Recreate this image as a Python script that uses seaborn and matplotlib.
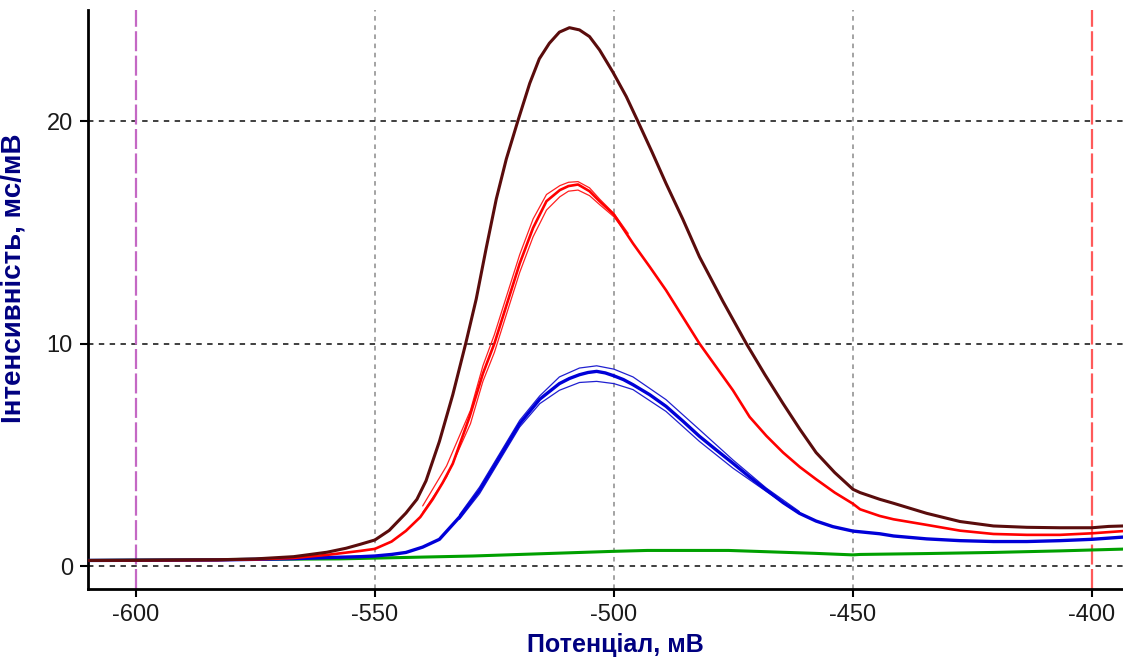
import matplotlib
matplotlib.use("Agg")
import matplotlib.pyplot as plt
import seaborn as sns
import pandas as pd

# ---------------- data ----------------
maroon_x = [-610, -583, -575, -567, -560, -556, -553, -550, -547, -543.5, -541.2, -539.3, -536.5,
            -533.7, -531, -528.8, -526.7, -524.6, -522.5, -520.1, -517.6, -515.6, -513.5, -511.4,
            -509.3, -507.2, -505.1, -503.0, -500.2, -497.4, -495.0, -492, -489.1, -485.6, -482.1,
            -477.2, -472.3, -468.4, -464.6, -461.1, -457.7, -453.8, -450, -448.5, -444.4, -441.5,
            -434.6, -427.6, -420.6, -413.6, -406.7, -400, -396.5, -393.5]
maroon_y = [0.25, 0.28, 0.32, 0.42, 0.62, 0.8, 0.98, 1.17, 1.6, 2.38, 3.0, 3.83, 5.6,
            7.7, 10.0, 12.0, 14.3, 16.5, 18.3, 20.0, 21.7, 22.8, 23.5, 24.0,
            24.2, 24.1, 23.8, 23.2, 22.2, 21.1, 20.0, 18.6, 17.2, 15.6, 13.9,
            11.9, 10.0, 8.6, 7.3, 6.15, 5.1, 4.2, 3.45, 3.3, 3.0, 2.82,
            2.37, 2.0, 1.80, 1.74, 1.72, 1.72, 1.78, 1.80]

red_x = [-610, -583, -575, -567, -560, -553, -550, -546.5, -543.5, -540.5, -537.9, -535.8, -533.7,
         -530.2, -527.4, -525, -522.5, -519.7, -516.9, -514.1, -511.3, -509.5, -507.5, -505.1,
         -503.0, -500, -496, -492.5, -489.1, -485.6, -482.1, -478.6, -475.1, -471.6, -468.1,
         -464.6, -461.1, -457.7, -453.8, -450, -448.5, -444.4, -441.5, -434.6, -427.6, -420.6,
         -413.6, -406.7, -400, -393.5]
red_y = [0.25, 0.27, 0.3, 0.36, 0.5, 0.68, 0.77, 1.1, 1.58, 2.2, 3.0, 3.75, 4.6,
         6.7, 8.65, 10.0, 11.7, 13.6, 15.2, 16.4, 16.9, 17.08, 17.15, 16.85,
         16.4, 15.8, 14.5, 13.45, 12.4, 11.2, 10.0, 8.95, 7.9, 6.7, 5.85,
         5.1, 4.45, 3.9, 3.3, 2.8, 2.55, 2.25, 2.1, 1.85, 1.59, 1.44,
         1.40, 1.40, 1.47, 1.57]

red_rep_x = [-540, -535, -530, -527.4, -525, -522.5, -519.7, -516.9, -514.1, -511.3, -509.5,
             -507.5, -505.1, -503.0, -500, -497]
red_rep1_y = [2.7, 4.5, 7.0, 9.0, 10.4, 12.1, 14.0, 15.6, 16.7, 17.1, 17.25, 17.28, 17.0,
              16.5, 15.85, 14.95]
red_rep2_y = [2.4, 4.0, 6.4, 8.3, 9.6, 11.3, 13.2, 14.8, 16.0, 16.6, 16.85, 16.9, 16.65,
              16.25, 15.7, 14.85]

blue_x = [-610, -583, -575, -567, -560, -553, -550, -546.5, -543.5, -540, -536.5, -532.3, -528.1,
          -523.9, -519.7, -515.5, -511.4, -509.3, -507.2, -505.4, -503.6, -501.8, -500, -498,
          -496, -492.5, -489.1, -485.6, -482.1, -478.6, -475.1, -471.6, -468.1, -464.6, -461.2,
          -457.7, -454.2, -450, -444.4, -441.5, -434.6, -427.6, -420.6, -413.6, -406.7, -400,
          -393.5]
blue_y = [0.25, 0.27, 0.3, 0.33, 0.38, 0.42, 0.45, 0.52, 0.61, 0.85, 1.2, 2.2, 3.4,
          4.9, 6.4, 7.5, 8.2, 8.43, 8.6, 8.7, 8.75, 8.68, 8.55, 8.38,
          8.15, 7.7, 7.18, 6.52, 5.83, 5.22, 4.62, 4.0, 3.42, 2.85, 2.37,
          2.02, 1.77, 1.57, 1.45, 1.35, 1.22, 1.14, 1.10, 1.10, 1.14, 1.2,
          1.3]

blue_rep_x = [-532.3, -528.1, -523.9, -519.7, -515.5, -511.4, -507.2, -503.6, -500, -496,
              -489.1, -482.1, -475.1, -468.1, -461.2]
blue_rep1_y = [2.3, 3.55, 5.05, 6.55, 7.65, 8.5, 8.9, 9.0, 8.85, 8.5, 7.48, 6.13, 4.77, 3.5, 2.45]
blue_rep2_y = [2.1, 3.25, 4.75, 6.25, 7.3, 7.9, 8.25, 8.3, 8.2, 7.93, 6.95, 5.6, 4.4, 3.35, 2.35]

green_x = [-610, -575, -557.5, -529.5, -500, -493, -476, -465, -458, -450, -448.5, -434.6,
           -420.6, -406.7, -393.5]
green_y = [0.25, 0.3, 0.32, 0.45, 0.66, 0.7, 0.7, 0.62, 0.57, 0.5, 0.52, 0.56,
           0.61, 0.68, 0.76]

x_ticks = [-600, -550, -500, -450, -400]
y_ticks = [0, 10, 20]
x_grid = [-550, -500, -450]
y_grid = [0, 10, 20]
start_marker = -600
end_marker = -400

x_label = "Потенціал, мВ"
y_label = "Інтенсивність, мс/мВ"

# ---------------- plotting ----------------
sns.set_style("ticks")
plt.rcParams['font.family'] = ['Liberation Sans', 'DejaVu Sans']
plt.rcParams['axes.unicode_minus'] = False

fig = plt.figure(figsize=(11.23, 6.59), dpi=100)
ax = fig.add_axes([0.0784, 0.106, 0.9216, 0.879])


def draw(x, y, color, lw, z):
    df = pd.DataFrame({"x": x, "y": y})
    line = sns.lineplot(data=df, x="x", y="y", color=color, linewidth=lw, ax=ax,
                        sort=False, estimator=None, zorder=z)
    ax.lines[-1].set_solid_joinstyle("round")
    return line


for g in x_grid:
    ax.axvline(g, color="#8a8a8a", linestyle=(0, (3, 3)), linewidth=1.1, zorder=1)
for g in y_grid:
    ax.axhline(g, color="#303030", linestyle=(0, (3, 3)), linewidth=1.3, zorder=1)
ax.axvline(start_marker, color="#c468c4", linestyle=(0, (9, 2)), linewidth=1.6, zorder=1)
ax.axvline(end_marker, color="#ff5a5a", linestyle=(0, (9, 2)), linewidth=1.6, zorder=1)

draw(green_x, green_y, "#00a000", 2.2, 3)
draw(blue_rep_x, blue_rep1_y, "#2020d0", 0.9, 4)
draw(blue_rep_x, blue_rep2_y, "#2020d0", 0.9, 4)
draw(blue_x, blue_y, "#0000d8", 2.4, 5)
draw(red_rep_x, red_rep1_y, "#ff2020", 0.9, 6)
draw(red_rep_x, red_rep2_y, "#ff2020", 0.9, 6)
draw(red_x, red_y, "#ff0000", 1.9, 7)
draw(maroon_x, maroon_y, "#5a0c0c", 2.2, 8)

ax.set_xlim(-610, -393.5)
ax.set_ylim(-1.04, 25.0)
ax.set_xticks(x_ticks)
ax.set_xticklabels([str(v) for v in x_ticks])
ax.set_yticks(y_ticks)
ax.set_yticklabels([str(v) for v in y_ticks])

for s in ["top", "right"]:
    ax.spines[s].set_visible(False)
for s in ["left", "bottom"]:
    ax.spines[s].set_linewidth(2.0)
    ax.spines[s].set_color("black")
ax.tick_params(axis="both", direction="out", length=6, width=1.5, color="black",
               labelsize=17, labelcolor="#1a1a1a", pad=5)

ax.set_xlabel(x_label, fontsize=18, fontweight="bold", color="#000080")
ax.set_ylabel(y_label, fontsize=20, fontweight="bold", color="#000080")
ax.xaxis.set_label_coords(0.51, -0.076)
ax.yaxis.set_label_coords(-0.059, 0.537)

fig.savefig("out.png", dpi=100)
